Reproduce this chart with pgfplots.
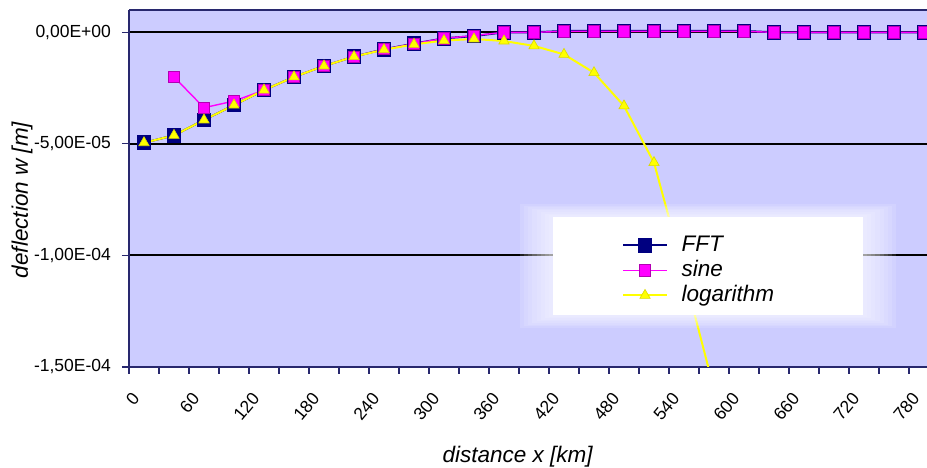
\documentclass[border=0pt]{standalone}
\usepackage{fontspec}
\setmainfont{Liberation Sans}
\usepackage{pgfplots}
\pgfplotsset{compat=1.18}
\usetikzlibrary{calc}

\definecolor{plotbg}{RGB}{204,204,255}
\definecolor{fftblue}{RGB}{0,0,128}
\definecolor{sinemag}{RGB}{255,0,255}
\definecolor{logyel}{RGB}{255,255,0}
\definecolor{frame}{RGB}{40,40,110}

\newcommand\tickfont{\fontsize{8.75}{10}\selectfont}
\newcommand\titlefont{\fontsize{11.25}{13}\selectfont\itshape}

\pgfplotsset{
  fftstyle/.style={fftblue, line width=1pt, mark=square*, mark size=3.4pt,
    mark options={fill=fftblue, draw=fftblue, line width=0.5pt}},
  sinestyle/.style={sinemag, line width=0.7pt, mark=square*, mark size=2.8pt,
    mark options={fill=sinemag, draw=sinemag!70!black, line width=0.4pt}},
  logstyle/.style={logyel, line width=1pt, mark=triangle*, mark size=3pt,
    mark options={fill=logyel, draw=logyel!85!black, line width=0.3pt}},
}

% deflection w [m] against distance x [km]
\pgfplotstableread{
x    fft        sine       logar
15   -4.95e-5   nan        -4.95e-5
45   -4.62e-5   -2.00e-5   -4.62e-5
75   -3.93e-5   -3.38e-5   -3.93e-5
105  -3.26e-5   -3.08e-5   -3.26e-5
135  -2.59e-5   -2.59e-5   -2.59e-5
165  -2.00e-5   -2.00e-5   -2.00e-5
195  -1.51e-5   -1.51e-5   -1.51e-5
225  -1.09e-5   -1.09e-5   -1.09e-5
255  -0.76e-5   -0.76e-5   -0.78e-5
285  -0.51e-5   -0.51e-5   -0.54e-5
315  -0.27e-5   -0.27e-5   -0.37e-5
345  -0.17e-5   -0.15e-5   -0.30e-5
375   0.00e-5    0.00e-5   -0.39e-5
405   0.00e-5    0.00e-5   -0.61e-5
435   0.06e-5    0.04e-5   -0.99e-5
465   0.06e-5    0.04e-5   -1.81e-5
495   0.06e-5    0.04e-5   -3.30e-5
525   0.06e-5    0.04e-5   -5.84e-5
555   0.06e-5    0.04e-5   -1.08e-4
585   0.06e-5    0.04e-5   -1.60e-4
615   0.06e-5    0.04e-5   nan
645   0.00e-5    0.00e-5   nan
675   0.00e-5    0.00e-5   nan
705   0.00e-5    0.00e-5   nan
735   0.00e-5    0.00e-5   nan
765   0.00e-5    0.00e-5   nan
795   0.00e-5    0.00e-5   nan
}\deflection

\begin{document}
\begin{tikzpicture}
\begin{axis}[name=ax,
  scale only axis, width=399pt, height=178.5pt,
  xmin=0, xmax=798, ymin=-1.5e-4, ymax=1.0e-5,
  axis background/.style={fill=plotbg},
  separate axis lines,
  axis x line*=box, axis y line*=left,
  axis line style={frame, line width=1pt},
  xtick pos=lower, ytick pos=lower,
  xtick={0,60,...,780}, minor xtick={30,90,...,750},
  ytick={-1.5e-4,-1e-4,-5e-5,0},
  yticklabels={{-1,50E-04},{-1,00E-04},{-5,00E-05},{0,00E+00}},
  scaled y ticks=false,
  /pgf/number format/assume math mode=true,
  ymajorgrids, major grid style={black, line width=1pt},
  tick align=outside, major tick length=3.5pt, minor tick length=3.5pt,
  tick style={frame, line width=0.6pt},
  xticklabel style={font=\tickfont, xshift=3.5pt, yshift=-10.5pt, rotate=50, anchor=east, inner sep=0pt},
  yticklabel style={font=\tickfont, xshift=-2pt},
  xlabel={distance x [km]},
  xlabel style={font=\titlefont, at={(axis description cs:0.487,-0.252)}, anchor=center},
  ylabel={deflection w [m]},
  ylabel style={font=\titlefont, at={(axis description cs:-0.134,0.468)}, anchor=center},
]
\addplot[fftstyle] table[x=x, y=fft]{\deflection};
\addplot[sinestyle] table[x=x, y=sine]{\deflection};
\addplot[logstyle] table[x=x, y=logar]{\deflection};
\end{axis}

% soft white panel for the legend
\foreach \f in {1,0.875,0.75,0.625,0.5,0.375,0.25,0.125}{
  \fill[white, fill opacity=0.12]
    ($(ax.south west)+(212pt-16.5pt*\f, 26pt-6.5pt*\f)$) rectangle
    ($(ax.south west)+(367pt+16.5pt*\f, 75pt+6.5pt*\f)$);
}
\fill[white] ($(ax.south west)+(212pt,26pt)$) rectangle ($(ax.south west)+(367pt,75pt)$);

% legend on an overlaid, hidden axis
\begin{axis}[at={(ax.south west)}, anchor=south west,
  scale only axis, width=399pt, height=178.5pt, hide axis,
  xmin=0, xmax=1, ymin=0, ymax=1,
  legend style={at={(axis description cs:0.6178,0.3725)}, anchor=north west,
    draw=none, fill=none, font=\titlefont, row sep=1.5pt, column sep=7pt, inner sep=0pt,
    nodes={inner sep=0pt, text height=8.5pt, text depth=2.5pt}},
  legend cell align=left,
  legend image code/.code={\draw[mark repeat=2, mark phase=2] plot coordinates {(0cm,0cm) (0.38cm,0cm) (0.76cm,0cm)};},
]
\addlegendimage{fftstyle}
\addlegendimage{sinestyle}
\addlegendimage{logstyle}
\legend{FFT, sine, logarithm}
\end{axis}

\pgfresetboundingbox
\path[use as bounding box] ($(ax.south west)+(-64.5pt,-50.5pt)$) rectangle ($(ax.north east)+(0pt,5pt)$);
\end{tikzpicture}
\end{document}
